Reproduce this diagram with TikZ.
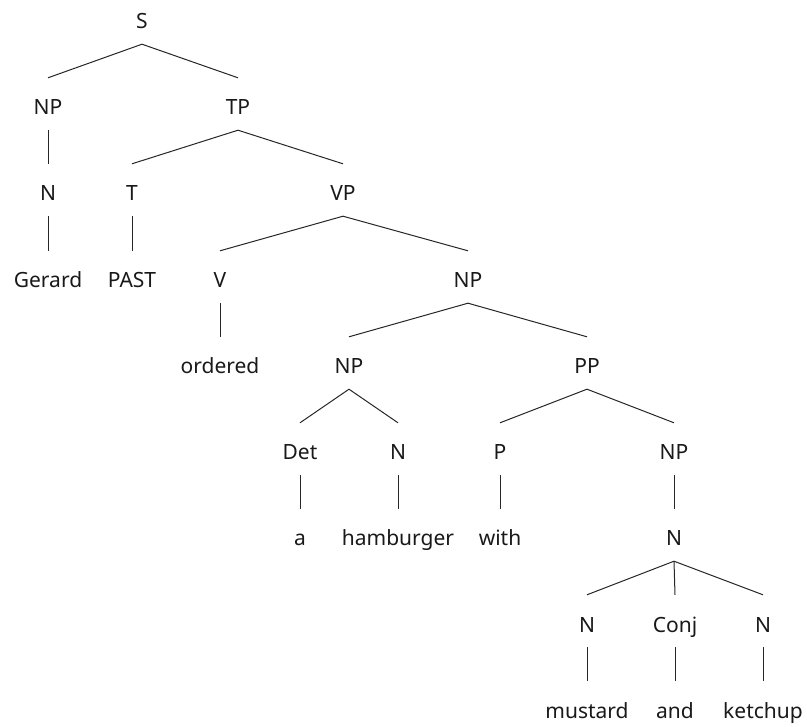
\documentclass[tikz,border=0pt]{standalone}
\usepackage{fontspec}
\setmainfont{Noto Sans}
\begin{document}
\begin{tikzpicture}[x=1pt,y=-1pt,
  lab/.style={anchor=base,inner sep=0pt,text height=37pt,text depth=15pt,
    font=\fontsize{21}{25}\selectfont,text=black!90},
  br/.style={line width=1pt,draw=black!85}]
\useasboundingbox (0,0) rectangle (807,727);
% level 0
\node[lab] (S) at (142,29) {S};
% level 1
\node[lab] (NPa) at (48,115) {NP};
\node[lab] (TP) at (238,115) {TP};
% level 2
\node[lab] (Na) at (48,201) {N};
\node[lab] (T) at (132,201) {T};
\node[lab] (VP) at (343,201) {VP};
% level 3
\node[lab] (Gerard) at (48,288) {Gerard};
\node[lab] (PAST) at (132,288) {PAST};
\node[lab] (V) at (220,288) {V};
\node[lab] (NPb) at (468,288) {NP};
% level 4
\node[lab] (ordered) at (220,374) {ordered};
\node[lab] (NPc) at (349,374) {NP};
\node[lab] (PP) at (587,374) {PP};
% level 5
\node[lab] (Det) at (300,460) {Det};
\node[lab] (Nb) at (398,460) {N};
\node[lab] (P) at (500,460) {P};
\node[lab] (NPd) at (674,460) {NP};
% level 6
\node[lab] (a) at (300,546) {a};
\node[lab] (hamburger) at (398,546) {hamburger};
\node[lab] (with) at (500,546) {with};
\node[lab] (Nc) at (674,546) {N};
% level 7
\node[lab] (Nd) at (587,632) {N};
\node[lab] (Conj) at (675,632) {Conj};
\node[lab] (Ne) at (763,632) {N};
% level 8
\node[lab] (mustard) at (587,718) {mustard};
\node[lab] (and) at (675,718) {and};
\node[lab] (ketchup) at (763,718) {ketchup};
% branches
\draw[br] (NPa.north) -- (S.south) -- (TP.north);
\draw[br] (NPa.south) -- (Na.north);
\draw[br] (T.north) -- (TP.south) -- (VP.north);
\draw[br] (Na.south) -- (Gerard.north);
\draw[br] (T.south) -- (PAST.north);
\draw[br] (V.north) -- (VP.south) -- (NPb.north);
\draw[br] (V.south) -- (ordered.north);
\draw[br] (NPc.north) -- (NPb.south) -- (PP.north);
\draw[br] (Det.north) -- (NPc.south) -- (Nb.north);
\draw[br] (P.north) -- (PP.south) -- (NPd.north);
\draw[br] (Det.south) -- (a.north);
\draw[br] (Nb.south) -- (hamburger.north);
\draw[br] (P.south) -- (with.north);
\draw[br] (NPd.south) -- (Nc.north);
\draw[br] (Nd.north) -- (Nc.south) -- (Ne.north);
\draw[br] (Nc.south) -- (Conj.north);
\draw[br] (Nd.south) -- (mustard.north);
\draw[br] (Conj.south) -- (and.north);
\draw[br] (Ne.south) -- (ketchup.north);
\end{tikzpicture}
\end{document}
